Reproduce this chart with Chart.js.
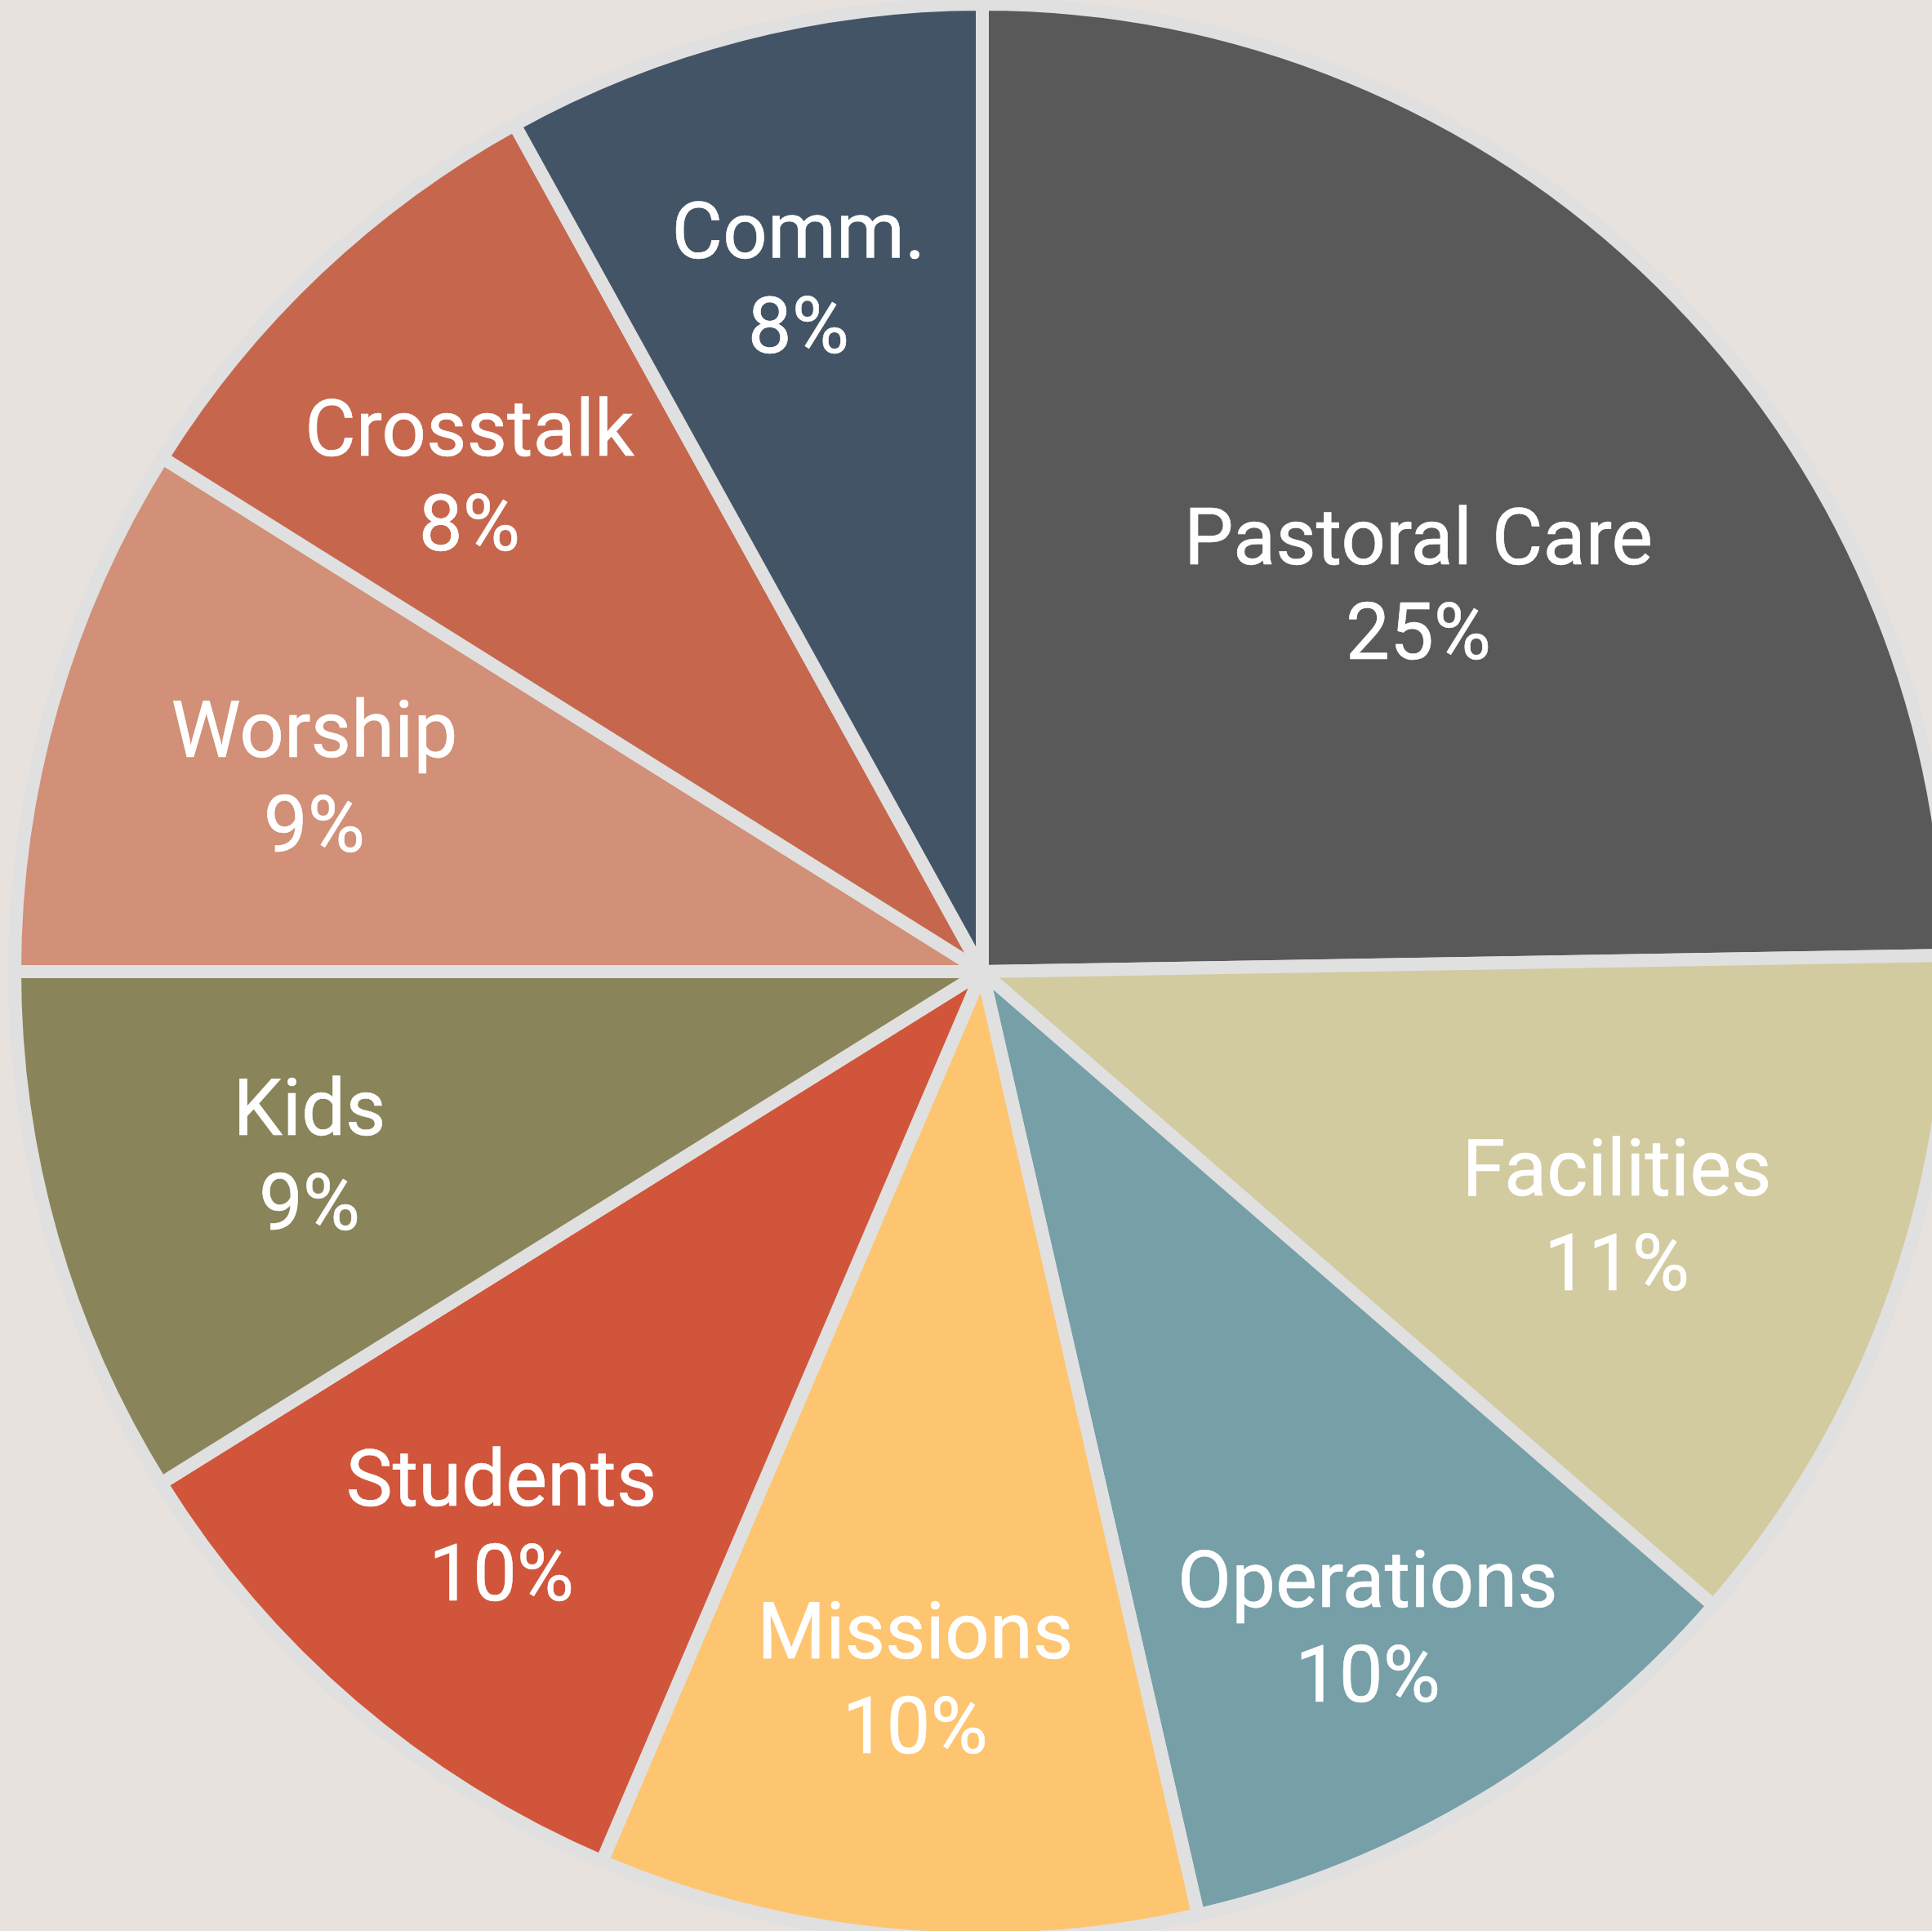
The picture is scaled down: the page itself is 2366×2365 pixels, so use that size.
<!DOCTYPE html>
<html>
<head>
<meta charset="utf-8">
<script src="https://cdn.jsdelivr.net/npm/chart.js@4"></script>
<style>
  html, body { margin: 0; padding: 0; background: #e8e2df; overflow: hidden; width: 2366px; height: 2365px; }
  #wrap { position: absolute; left: 0; top: 0; width: 2406px; height: 2380px; }
</style>
</head>
<body>
<div id="wrap"><canvas id="c"></canvas></div>
<script>
const categories = ['Pastoral Care', 'Facilities', 'Operations', 'Missions', 'Students', 'Kids', 'Worship', 'Crosstalk', 'Comm.'];
const shares = [24.73, 11.64, 10.05, 10.01, 9.70, 8.87, 8.91, 8.06, 8.03];
const shareLabels = ['25%', '11%', '10%', '10%', '10%', '9%', '9%', '8%', '8%'];

const sliceColors = ['#595959', '#d2cba0', '#769fa8', '#fec571', '#d1553a', '#8a845a', '#d19077', '#c6674d', '#435466'];
const gapColor = '#e0e0e0';

const sliceLabelPlugin = {
  id: 'sliceLabels',
  afterDatasetsDraw(chart, args, opts) {
    const ctx = chart.ctx;
    const meta = chart.getDatasetMeta(0);
    ctx.save();
    ctx.fillStyle = opts.color;
    ctx.strokeStyle = opts.color;
    ctx.lineWidth = opts.strokeWidth;
    ctx.lineJoin = 'round';
    ctx.font = opts.font;
    ctx.textAlign = 'center';
    ctx.textBaseline = 'alphabetic';
    const capHalf = opts.capHeight / 2;
    const lh = opts.lineHeight;
    meta.data.forEach((arc, i) => {
      const p = arc.getProps(['x', 'y', 'startAngle', 'endAngle', 'outerRadius'], true);
      const ang = (p.startAngle + p.endAngle) / 2 + opts.angleShifts[i] * Math.PI / 180;
      const r = p.outerRadius * opts.radiusFactors[i];
      const cx = p.x + Math.cos(ang) * r;
      const cy = p.y + Math.sin(ang) * r;
      const lines = [chart.data.labels[i], shareLabels[i]];
      lines.forEach((t, k) => {
        const by = cy + (k === 0 ? -lh / 2 : lh / 2) + capHalf;
        ctx.strokeText(t, cx, by);
        ctx.fillText(t, cx, by);
      });
    });
    ctx.restore();
  }
};

new Chart(document.getElementById('c'), {
  type: 'pie',
  data: {
    labels: categories,
    datasets: [{
      data: shares,
      backgroundColor: sliceColors,
      borderColor: gapColor,
      borderWidth: 16,
      radius: 1185
    }]
  },
  options: {
    responsive: true,
    maintainAspectRatio: false,
    animation: false,
    layout: { padding: 0 },
    plugins: {
      legend: { display: false },
      tooltip: { enabled: false },
      sliceLabels: {
        color: '#ffffff',
        font: '96px Roboto',
        capHeight: 68,
        lineHeight: 116,
        strokeWidth: 0.6,
        radiusFactors: [0.6031, 0.7023, 0.7853, 0.7333, 0.7579, 0.7206, 0.7192, 0.7376, 0.7420],
        angleShifts: [3.84, 1.0, 0.5, 0.3, 0.37, 0.75, 0.25, -2.52, -0.38]
      }
    }
  },
  plugins: [sliceLabelPlugin]
});
</script>
</body>
</html>
